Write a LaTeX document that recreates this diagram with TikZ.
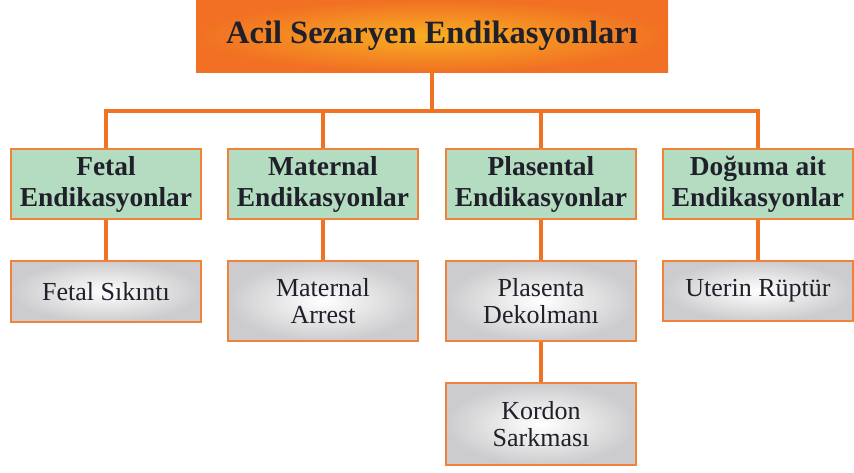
\documentclass[tikz,border=0pt]{standalone}
\usepackage{fontspec}
\setmainfont{Liberation Serif}
\definecolor{lineor}{RGB}{240,115,35}
\definecolor{boxor}{RGB}{240,130,60}
\definecolor{titlein}{RGB}{248,175,34}
\definecolor{titleout}{RGB}{241,112,35}
\definecolor{greenfill}{RGB}{180,220,192}
\definecolor{grayout}{RGB}{204,204,206}
\definecolor{txt}{RGB}{32,32,42}
\begin{document}
\begin{tikzpicture}[x=1pt,y=-1pt,
  titlebox/.style={rectangle,inner color=titlein,outer color=titleout,minimum width=472pt,minimum height=72pt,text=txt,font=\fontsize{32.5}{36}\selectfont\bfseries,inner sep=0pt},
  catbox/.style={rectangle,draw=boxor,line width=1.8pt,fill=greenfill,minimum width=190pt,minimum height=70pt,text=txt,align=center,font=\fontsize{27.4}{31}\selectfont\bfseries,inner sep=0pt},
  itembox/.style={rectangle,draw=boxor,line width=1.8pt,inner color=white,outer color=grayout,minimum width=190pt,text=txt,align=center,font=\fontsize{26}{27.5}\selectfont,inner sep=0pt},
  conn/.style={draw=lineor,line width=4pt}]
\useasboundingbox (0,0) rectangle (854,472);
\node[titlebox] (title) at (432,36) {Acil Sezaryen Endikasyonları};
\node[catbox] (g1) at (106,184) {Fetal\\Endikasyonlar};
\node[catbox] (g2) at (323,184) {Maternal\\Endikasyonlar};
\node[catbox] (g3) at (541,184) {Plasental\\Endikasyonlar};
\node[catbox] (g4) at (758,184) {Doğuma ait\\Endikasyonlar};
\node[itembox,minimum height=61pt] (i1) at (106,291.5) {Fetal Sıkıntı};
\node[itembox,minimum height=80pt] (i2) at (323,301) {Maternal\\Arrest};
\node[itembox,minimum height=80pt] (i3) at (541,301) {Plasenta\\Dekolmanı};
\node[itembox,minimum height=60pt] (i4) at (758,291) {Uterin Rüptür};
\node[itembox,minimum height=82pt] (i5) at (541,424) {Kordon\\Sarkması};
\coordinate (bus) at (432,111);
\draw[conn] (title.south) -- (bus);
\draw[conn] (g1.north) -- (g1.north |- bus) -- (g4.north |- bus) -- (g4.north);
\draw[conn] (g2.north) -- (g2.north |- bus);
\draw[conn] (g3.north) -- (g3.north |- bus);
\draw[conn] (g1.south) -- (i1.north);
\draw[conn] (g2.south) -- (i2.north);
\draw[conn] (g3.south) -- (i3.north);
\draw[conn] (g4.south) -- (i4.north);
\draw[conn] (i3.south) -- (i5.north);
\end{tikzpicture}
\end{document}
